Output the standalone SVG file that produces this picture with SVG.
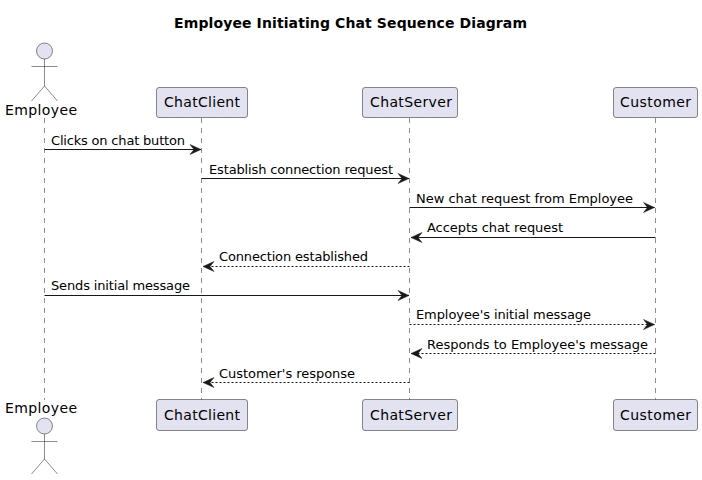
<svg xmlns="http://www.w3.org/2000/svg" width="702" height="480" viewBox="0 0 702 480">
<defs>
<marker id="a" markerUnits="userSpaceOnUse" markerWidth="14" markerHeight="14" refX="12" refY="7" orient="auto"><path d="M1 2L12 7L1 12L5 7Z" fill="#181818" stroke="#181818" stroke-width=".5"/></marker>
</defs>
<style>
text{font-family:"DejaVu Sans",sans-serif;font-size:13px;fill:#000}
.t{font-size:14px}
.life{stroke:#181818;stroke-width:.5;stroke-dasharray:5 5}
.box{fill:#E2E2F0;stroke:#181818;stroke-width:.5}
.m{stroke:#181818;stroke-width:1;marker-end:url(#a);fill:none}
.d{stroke-dasharray:2 2}
.ln{stroke:#181818;stroke-width:.5;fill:none}
</style>
<rect width="702" height="480" fill="#fff"/>
<text x="174" y="28" textLength="353" style="font-weight:bold;font-size:14px">Employee Initiating Chat Sequence Diagram</text>
<g id="lifelines">
<line class="life" x1="44.500" y1="118" x2="44.500" y2="400"/>
<line class="life" x1="201.500" y1="118" x2="201.500" y2="400"/>
<line class="life" x1="409.500" y1="118" x2="409.500" y2="400"/>
<line class="life" x1="655.500" y1="118" x2="655.500" y2="400"/>
</g>
<g id="employee-top"><circle class="box" cx="44.500" cy="51" r="8"/><path class="ln" d="M44.500 59V86M31.500 66.500H57.500M44.500 86L31.500 101M44.500 86L57.500 101"/><text class="t" x="5" y="115" textLength="72">Employee</text></g>
<g id="chatclient-top"><rect class="box" x="156.500" y="87.500" width="91" height="30" rx="2.500"/><text class="t" x="164" y="107" textLength="76">ChatClient</text></g>
<g id="chatserver-top"><rect class="box" x="362.500" y="87.500" width="95" height="30" rx="2.500"/><text class="t" x="370" y="107" textLength="82">ChatServer</text></g>
<g id="customer-top"><rect class="box" x="613.500" y="87.500" width="84" height="30" rx="2.500"/><text class="t" x="620" y="107" textLength="71">Customer</text></g>
<g id="employee-bottom"><text class="t" x="5" y="413" textLength="72">Employee</text><circle class="box" cx="44.500" cy="426" r="8"/><path class="ln" d="M44.500 434V459M31.500 441.500H57.500M44.500 459L31.500 474M44.500 459L57.500 474"/></g>
<g id="chatclient-bottom"><rect class="box" x="156.500" y="399.500" width="91" height="31" rx="2.500"/><text class="t" x="164" y="420" textLength="76">ChatClient</text></g>
<g id="chatserver-bottom"><rect class="box" x="362.500" y="399.500" width="95" height="31" rx="2.500"/><text class="t" x="370" y="420" textLength="82">ChatServer</text></g>
<g id="customer-bottom"><rect class="box" x="613.500" y="399.500" width="84" height="31" rx="2.500"/><text class="t" x="620" y="420" textLength="71">Customer</text></g>
<g id="connectors">
<line class="m" x1="44.500" y1="149.500" x2="201" y2="149.500"/>
<line class="m" x1="201.500" y1="178.500" x2="409" y2="178.500"/>
<line class="m" x1="409.500" y1="207.500" x2="654.500" y2="207.500"/>
<line class="m" x1="655.500" y1="237.500" x2="411" y2="237.500"/>
<line class="m d" x1="409.500" y1="266.500" x2="203" y2="266.500"/>
<line class="m" x1="44.500" y1="295.500" x2="409" y2="295.500"/>
<line class="m d" x1="409.500" y1="324.500" x2="654.500" y2="324.500"/>
<line class="m d" x1="655.500" y1="353.500" x2="411" y2="353.500"/>
<line class="m d" x1="409.500" y1="382.500" x2="203" y2="382.500"/>
<text x="51" y="145" textLength="134">Clicks on chat button</text>
<text x="209" y="174" textLength="184">Establish connection request</text>
<text x="416" y="203" textLength="217">New chat request from Employee</text>
<text x="427" y="232" textLength="136">Accepts chat request</text>
<text x="219" y="261" textLength="149">Connection established</text>
<text x="51" y="290" textLength="139">Sends initial message</text>
<text x="416" y="319" textLength="175">Employee's initial message</text>
<text x="427" y="349" textLength="221">Responds to Employee's message</text>
<text x="219" y="378" textLength="136">Customer's response</text>
</g>
</svg>
